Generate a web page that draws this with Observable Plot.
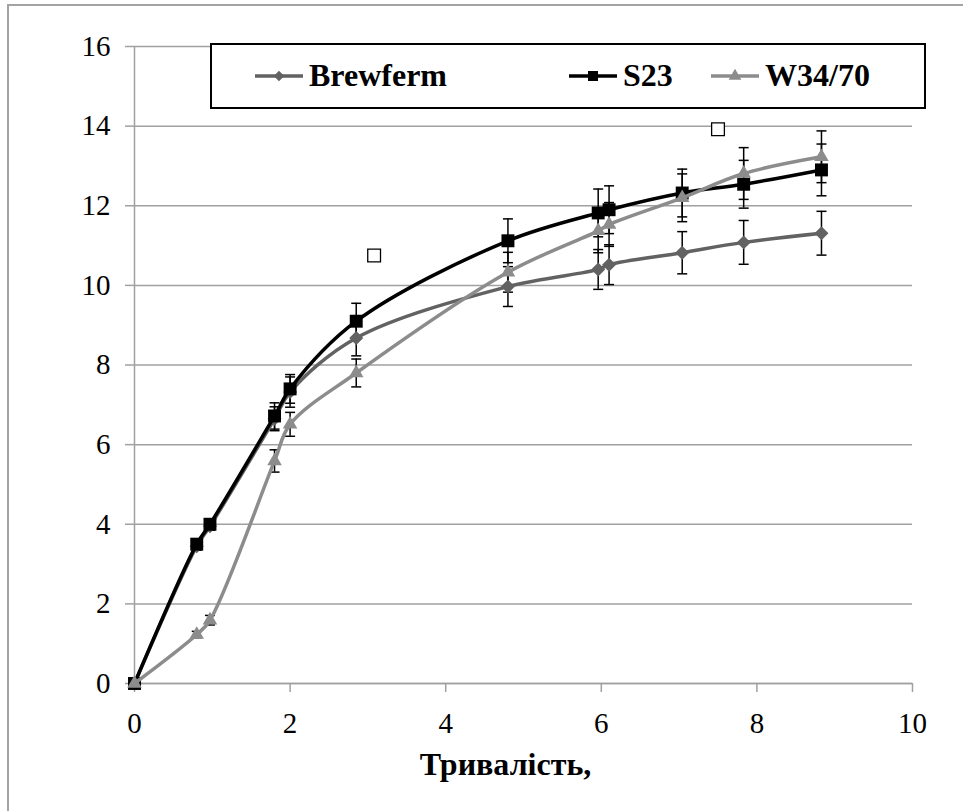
<!DOCTYPE html>
<html><head><meta charset="utf-8">
<script src="https://cdn.jsdelivr.net/npm/d3@7"></script>
<script src="https://cdn.jsdelivr.net/npm/@observablehq/plot@0.6"></script>
<style>
body{margin:0;background:#fff;overflow:hidden;}
#wrap{position:relative;width:963px;height:811px;overflow:hidden;background:#fff;font-family:Liberation Serif;}
#frame{position:absolute;left:7px;top:4px;width:1000px;height:900px;border:2px solid #a3a3a3;box-sizing:border-box;}
#chart{position:absolute;left:0;top:0;}
#legend{position:absolute;left:210px;top:43px;}
</style></head><body>
<div id="wrap"><div id="frame"></div><div id="chart"></div><div id="legend"></div></div>
<script>
// ---- data ----
const time = [0, 0.8, 0.97, 1.8, 2.0, 2.85, 4.8, 5.96, 6.1, 7.04, 7.83, 8.83];
const brewferm = [0, 3.45, 3.95, 6.65, 7.32, 8.68, 9.97, 10.4, 10.52, 10.82, 11.08, 11.31];
const brewfermErr = [0, 0.1, 0.1, 0.3, 0.38, 0.45, 0.5, 0.5, 0.5, 0.53, 0.55, 0.55];
const s23 = [0, 3.5, 4.0, 6.72, 7.4, 9.1, 11.12, 11.82, 11.9, 12.32, 12.54, 12.9];
const s23Err = [0, 0.1, 0.1, 0.33, 0.36, 0.45, 0.55, 0.6, 0.6, 0.6, 0.6, 0.65];
const w3470 = [0, 1.23, 1.59, 5.59, 6.51, 7.8, 10.33, 11.37, 11.53, 12.2, 12.81, 13.23];
const w3470Err = [0, 0.08, 0.12, 0.28, 0.3, 0.35, 0.5, 0.55, 0.55, 0.6, 0.65, 0.65];
const outlierX = [3.08, 7.5];
const outlierY = [10.75, 13.92];
const xTicks = [0, 2, 4, 6, 8, 10];
const yTicks = [0, 2, 4, 6, 8, 10, 12, 14, 16];
const seriesNames = ["Brewferm", "S23", "W34/70"];
const seriesColors = ["#626262", "#000000", "#8c8c8c"];
const seriesSymbols = ["diamond2", "square", "triangle"];
const xTitle = "Тривалість,";

const FONT = "Liberation Serif";
const seriesValues = [brewferm, s23, w3470];
const seriesErrs = [brewfermErr, s23Err, w3470Err];
const rows = seriesNames.map((name, i) =>
  time.map((t, j) => ({name, t, v: seriesValues[i][j], e: seriesErrs[i][j]})));
const allRows = rows.flat();
const errRows = allRows.filter(d => d.e > 0);
const outliers = outlierX.map((x, i) => ({x, y: outlierY[i]}));

const capSymbol = {
  draw(ctx, size) {
    const r = Math.sqrt(size / Math.PI);
    ctx.moveTo(-r, 0); ctx.lineTo(r, 0);
  }
};
const markerR = {"diamond2": 6.3, "square": 7.3, "triangle": 5.4};
const gray = "#a0a0a0";

const marks = [
  Plot.gridY(yTicks, {stroke: gray, strokeOpacity: 1, strokeWidth: 1.5}),
  Plot.ruleY([0], {stroke: gray, strokeWidth: 1.5}),
  Plot.ruleX([0], {stroke: gray, strokeWidth: 1.5}),
  Plot.axisY(yTicks, {tickSize: 9, tickPadding: 15, stroke: gray, strokeWidth: 1.5, label: null, fill: "black", fontFamily: FONT}),
  Plot.axisX(xTicks, {tickSize: 9, tickPadding: 20, stroke: gray, strokeWidth: 1.5, label: null, fill: "black", fontFamily: FONT}),
  Plot.ruleX(errRows, {x: "t", y1: d => d.v - d.e, y2: d => d.v + d.e, stroke: "black", strokeWidth: 1.5}),
  Plot.dot(errRows, {x: "t", y: d => d.v - d.e, symbol: capSymbol, r: 5, stroke: "black", strokeWidth: 1.5, fill: "none"}),
  Plot.dot(errRows, {x: "t", y: d => d.v + d.e, symbol: capSymbol, r: 5, stroke: "black", strokeWidth: 1.5, fill: "none"})
];
rows.forEach((data, i) => {
  marks.push(Plot.line(data, {x: "t", y: "v", curve: "catmull-rom", stroke: seriesColors[i], strokeWidth: 3.5}));
  marks.push(Plot.dot(data, {x: "t", y: "v", symbol: seriesSymbols[i], r: markerR[seriesSymbols[i]], fill: seriesColors[i], stroke: "none"}));
});
marks.push(Plot.dot(outliers, {x: "x", y: "y", symbol: "square", r: 7.2, fill: "white", stroke: "black", strokeWidth: 1.3}));
marks.push(Plot.text([xTitle], {frameAnchor: "bottom", text: d => d, dy: 69, dx: -18, lineAnchor: "top", fontWeight: "bold", fontSize: 32, fill: "black", fontFamily: FONT}));

const chart = Plot.plot({
  width: 963, height: 811,
  marginLeft: 134, marginRight: 51, marginTop: 46, marginBottom: 128,
  x: {domain: [0, 10]},
  y: {domain: [0, 16]},
  style: {fontSize: "29px", color: "black", background: "transparent", overflow: "visible"},
  marks
});
d3.select(chart).selectAll("text").attr("font-family", FONT).style("font-family", FONT);
document.getElementById("chart").appendChild(chart);

// ---- legend (inside the plot area, boxed) ----
const lw = 716, lh = 66;
const lsvg = d3.select("#legend").append("svg").attr("width", lw).attr("height", lh);
lsvg.append("rect").attr("x", 1).attr("y", 1).attr("width", lw - 2).attr("height", lh - 2)
  .attr("fill", "white").attr("stroke", "black").attr("stroke-width", 2);
const entryX = [45, 359, 501];
const legendSym = [d3.symbolDiamond2, d3.symbolSquare, d3.symbolTriangle];
const legendSize = [70, 100, 70];
seriesNames.forEach((name, i) => {
  const g = lsvg.append("g").attr("transform", `translate(${entryX[i]},33)`);
  g.append("line").attr("x1", 0).attr("x2", 48).attr("y1", 0).attr("y2", 0)
    .attr("stroke", seriesColors[i]).attr("stroke-width", 3.5);
  g.append("path").attr("d", d3.symbol(legendSym[i], legendSize[i])()).attr("transform", "translate(24,0)")
    .attr("fill", seriesColors[i]);
  g.append("text").attr("x", 54).attr("y", 10).attr("font-size", 32).attr("font-weight", "bold")
    .attr("font-family", FONT).style("font-family", FONT)
    .attr("fill", "black").text(name);
});
</script>
</body></html>
